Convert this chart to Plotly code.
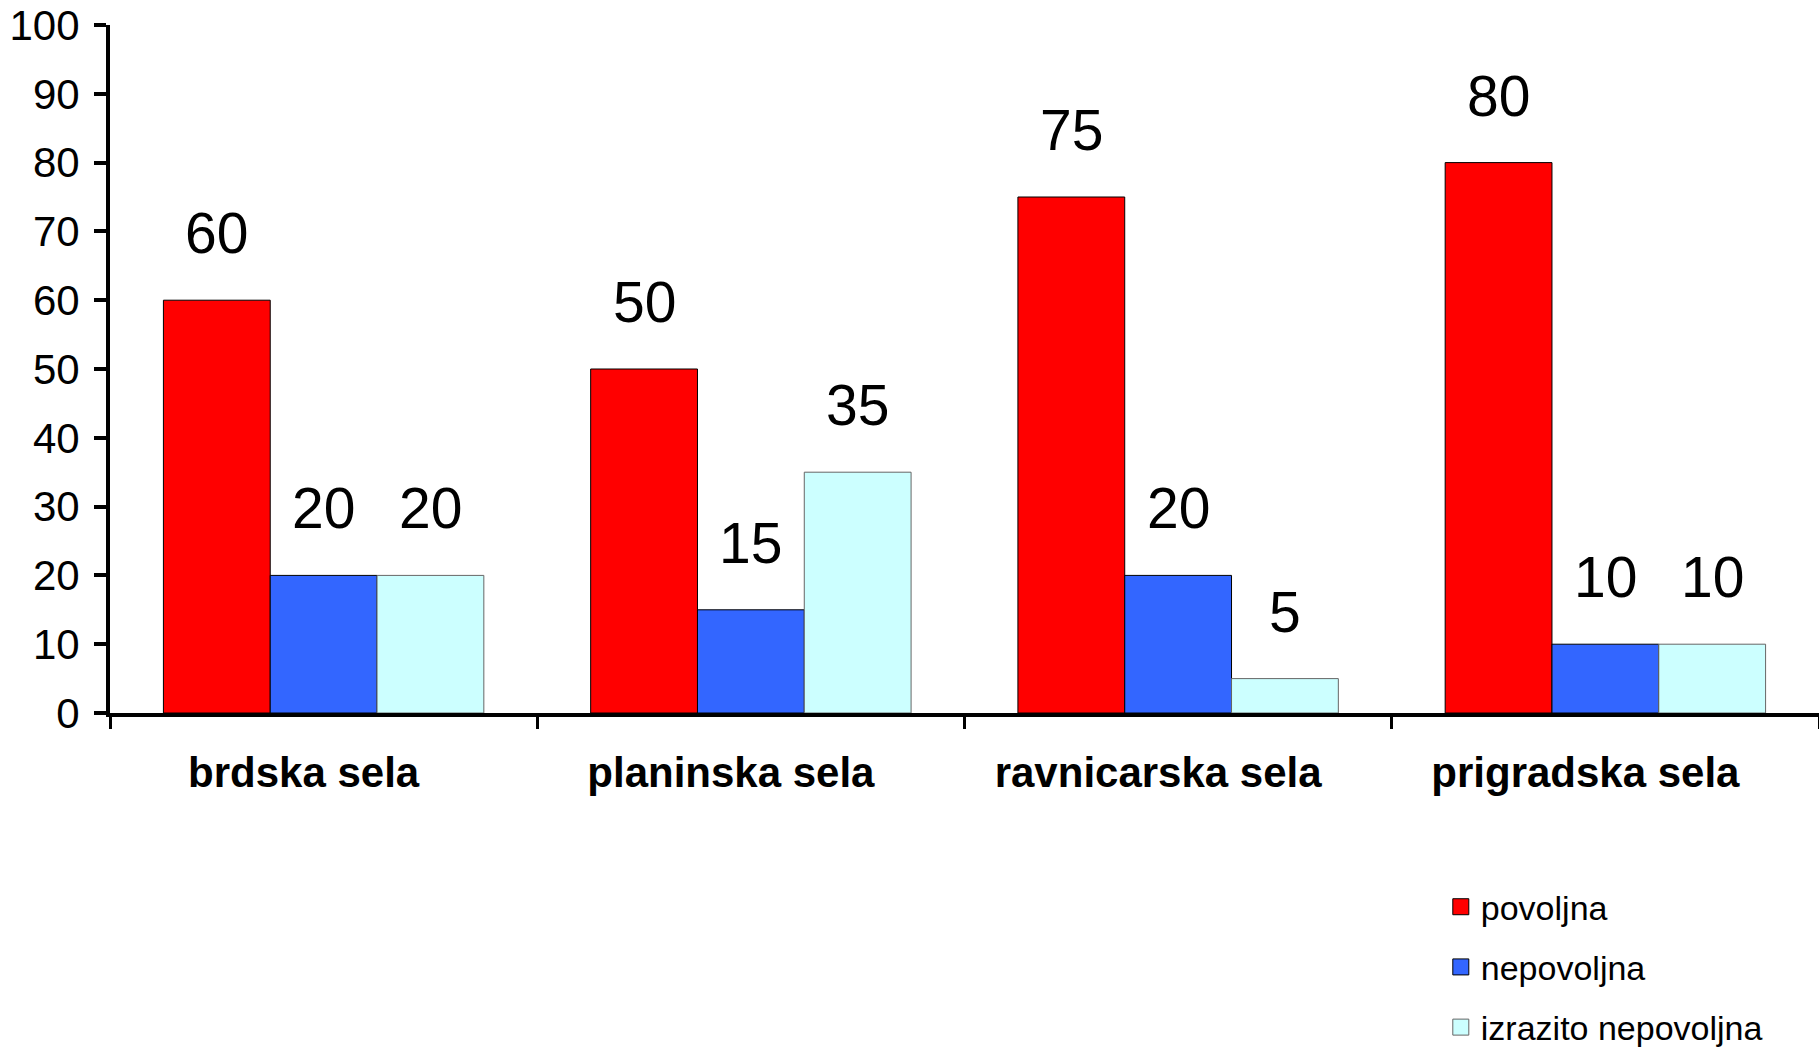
import plotly.graph_objects as go

categories = ["brdska sela", "planinska sela", "ravnicarska sela", "prigradska sela"]
povoljna = [60, 50, 75, 80]
nepovoljna = [20, 15, 20, 10]
izrazito_nepovoljna = [20, 35, 5, 10]

series = [
    ("povoljna", povoljna, "#FF0000", "#000000"),
    ("nepovoljna", nepovoljna, "#3366FF", "#000000"),
    ("izrazito nepovoljna", izrazito_nepovoljna, "#CCFFFF", "#666666"),
]

FONT = "Arial, Liberation Sans, sans-serif"
bargap = 0.25
bar_w = (1 - bargap) / len(series)

figure = go.Figure()
annotations = []
for k, (name, values, color, line_color) in enumerate(series):
    figure.add_trace(go.Bar(
        name=name,
        x=categories,
        y=values,
        marker_color=color,
        marker_line_color=line_color,
        marker_line_width=1,
        showlegend=False,
    ))
    # legend entry with a bigger square swatch
    figure.add_trace(go.Scatter(
        name=name,
        x=[None], y=[None],
        mode="markers",
        marker=dict(symbol="square", size=19, color=color,
                    line=dict(color=line_color, width=1)),
        legendgroup=name,
        showlegend=True,
    ))
    offset = (k - (len(series) - 1) / 2) * bar_w
    for i, v in enumerate(values):
        annotations.append(dict(
            x=i + offset, y=v, xref="x", yref="y",
            text=str(v), showarrow=False,
            yanchor="middle", yshift=67,
            font=dict(family=FONT, size=57, color="black"),
        ))

figure.update_layout(
    barmode="group",
    bargap=bargap,
    bargroupgap=0,
    width=1819,
    height=1050,
    margin=dict(l=110, r=0, t=25, b=337, autoexpand=False),
    plot_bgcolor="white",
    paper_bgcolor="white",
    font=dict(family=FONT, size=34, color="black"),
    annotations=annotations,
    showlegend=True,
    legend=dict(
        x=0.7787, xanchor="left",
        y=-0.24, yanchor="top",
        font=dict(family=FONT, size=34, color="black"),
        tracegroupgap=13,
        itemsizing="trace",
    ),
    xaxis=dict(
        type="category",
        automargin=False,
        showline=True, linecolor="black", linewidth=4,
        ticks="outside", tickson="boundaries", ticklen=12, tickwidth=3, tickcolor="black",
        tickfont=dict(family=FONT, size=42, color="black", weight="bold"),
        ticklabelstandoff=20,
        ticklabelshift=-20,
        showgrid=False,
    ),
    yaxis=dict(
        range=[0, 100], dtick=10,
        automargin=False,
        showline=True, linecolor="black", linewidth=4,
        ticks="outside", ticklen=12, tickwidth=4, tickcolor="black",
        tickfont=dict(family=FONT, size=42, color="black"),
        ticklabelstandoff=6,
        ticklabeloverflow="allow",
        showgrid=False, zeroline=False,
    ),
)

# drop the default 8px body margin so the figure fills the window
figure.write_html("out.html", config={"displayModeBar": False},
                  post_script="document.body.style.margin = '0';")
